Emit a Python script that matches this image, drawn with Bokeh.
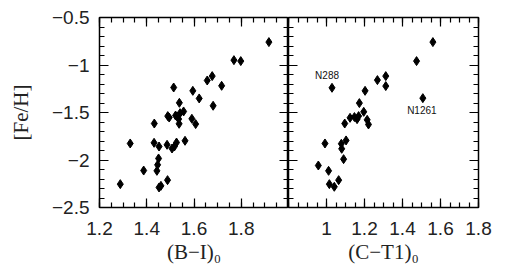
from bokeh.plotting import figure
from bokeh.layouts import row
from bokeh.models import (LinearAxis, SingleIntervalTicker, Label, CustomJSTickFormatter,
                          CustomLabelingPolicy)
from bokeh.embed import file_html
from bokeh.resources import INLINE

# Left panel: (B-I)0 vs [Fe/H]
bi_x = [1.288, 1.330, 1.387, 1.432, 1.431, 1.452, 1.450, 1.446, 1.443, 1.452,
        1.460, 1.488, 1.486, 1.489, 1.495, 1.514, 1.507, 1.517, 1.526, 1.522,
        1.535, 1.538, 1.537, 1.541, 1.556, 1.562, 1.595, 1.591, 1.607, 1.622,
        1.656, 1.677, 1.681, 1.717, 1.769, 1.798, 1.917]
bi_y = [-2.254, -1.826, -2.111, -1.616, -1.819, -1.858, -1.984, -2.051, -2.114, -2.289,
        -2.272, -2.212, -1.840, -1.538, -1.553, -1.237, -1.879, -1.858, -1.816, -1.532,
        -1.569, -1.398, -1.619, -1.507, -1.489, -1.798, -1.272, -1.566, -1.622, -1.352,
        -1.163, -1.117, -1.429, -1.219, -0.949, -0.959, -0.759]

# Right panel: (C-T1)0 vs [Fe/H]
ct_x = [0.957, 0.992, 1.011, 1.015, 1.041, 1.064, 1.029, 1.078, 1.080, 1.090,
        1.103, 1.096, 1.124, 1.147, 1.161, 1.169, 1.173, 1.196, 1.214, 1.221,
        1.203, 1.268, 1.312, 1.312, 1.474, 1.507, 1.560]
ct_y = [-2.058, -1.826, -2.114, -2.254, -2.282, -2.212, -1.240, -1.829, -1.882, -1.991,
        -1.794, -1.616, -1.556, -1.548, -1.570, -1.538, -1.401, -1.493, -1.577, -1.626,
        -1.272, -1.159, -1.117, -1.222, -0.959, -1.349, -0.759]

annotations = [("N288", 1.003, -1.106), ("N1261", 1.502, -1.482)]

TICK_FONT = "Liberation Sans"
LABEL_FONT = "Liberation Serif"
fmt = CustomJSTickFormatter(code="""
let s = (Math.round(tick*10)/10).toString();
return s.replace('-', '\u2212');
""")
no_labels = CustomLabelingPolicy(code="""
for (let i = 0; i < indices.size; i++) { indices.set(i, false) }
return indices
""")


def style_axis(ax, major, minor, labels=True):
    ax.ticker = SingleIntervalTicker(interval=major, num_minor_ticks=minor)
    ax.major_tick_in = 9
    ax.major_tick_out = 0
    ax.minor_tick_in = 5
    ax.minor_tick_out = 0
    ax.major_tick_line_color = "black"
    ax.minor_tick_line_color = "black"
    ax.major_tick_line_width = 1.2
    ax.minor_tick_line_width = 1.2
    ax.axis_line_color = None
    if labels:
        ax.formatter = fmt
        ax.major_label_text_font = TICK_FONT
        ax.major_label_text_font_size = "19px"
        ax.major_label_text_color = "#222222"
    else:
        ax.major_label_policy = no_labels
        ax.major_label_text_font_size = "0px"
        ax.major_label_standoff = 0


def make_fig(xr, border_left, xlabel, show_y):
    p = figure(x_range=xr, y_range=(-2.5, -0.5), frame_width=189 if show_y else 190,
               frame_height=190, output_backend="svg", toolbar_location=None,
               min_border_left=border_left, min_border_right=0 if show_y else 20,
               min_border_top=17, min_border_bottom=52,
               x_axis_location=None, y_axis_location=None)
    p.background_fill_color = "white"
    p.border_fill_color = "white"
    p.outline_line_color = "black"
    p.outline_line_width = 1.5
    p.xgrid.visible = False
    p.ygrid.visible = False

    xb = LinearAxis()
    style_axis(xb, 0.2, 4)
    xb.major_label_standoff = 14
    xb.axis_label = xlabel
    xb.axis_label_text_font = LABEL_FONT
    xb.axis_label_text_font_size = "21px"
    xb.axis_label_text_font_style = "normal"
    xb.axis_label_text_color = "#222222"
    xb.axis_label_standoff = 2
    p.add_layout(xb, "below")

    xa = LinearAxis()
    style_axis(xa, 0.2, 4, labels=False)
    p.add_layout(xa, "above")

    yl = LinearAxis()
    style_axis(yl, 0.5, 5, labels=show_y)
    if show_y:
        yl.major_label_standoff = 10
        yl.axis_label = "[Fe/H]"
        yl.axis_label_text_font = LABEL_FONT
        yl.axis_label_text_font_size = "21px"
        yl.axis_label_text_font_style = "normal"
        yl.axis_label_text_color = "#222222"
        yl.axis_label_standoff = 16
    p.add_layout(yl, "left")

    yr = LinearAxis()
    style_axis(yr, 0.5, 5, labels=False)
    p.add_layout(yr, "right")
    return p


p1 = make_fig((1.2, 2.0), 99, "(B\u2212I)\u2080", True)
p1.scatter(bi_x, bi_y, marker="diamond", size=9, color="black")

p2 = make_fig((0.8, 1.8), 0, "(C\u2212T1)\u2080", False)
p2.scatter(ct_x, ct_y, marker="diamond", size=9, color="black")
for txt, ax_, ay_ in annotations:
    p2.add_layout(Label(x=ax_, y=ay_, text=txt, text_align="center", text_baseline="middle",
                        text_font=TICK_FONT, text_font_size="10px", text_color="#111111"))

# hide the tick labels that fall on the shared/outer edge
p2.below[0].major_label_overrides = {0.8: ""}
p1.below[0].major_label_overrides = {2.0: ""}

layout = row(p1, p2, spacing=0)
open("out.html", "w").write(file_html(layout, INLINE))
